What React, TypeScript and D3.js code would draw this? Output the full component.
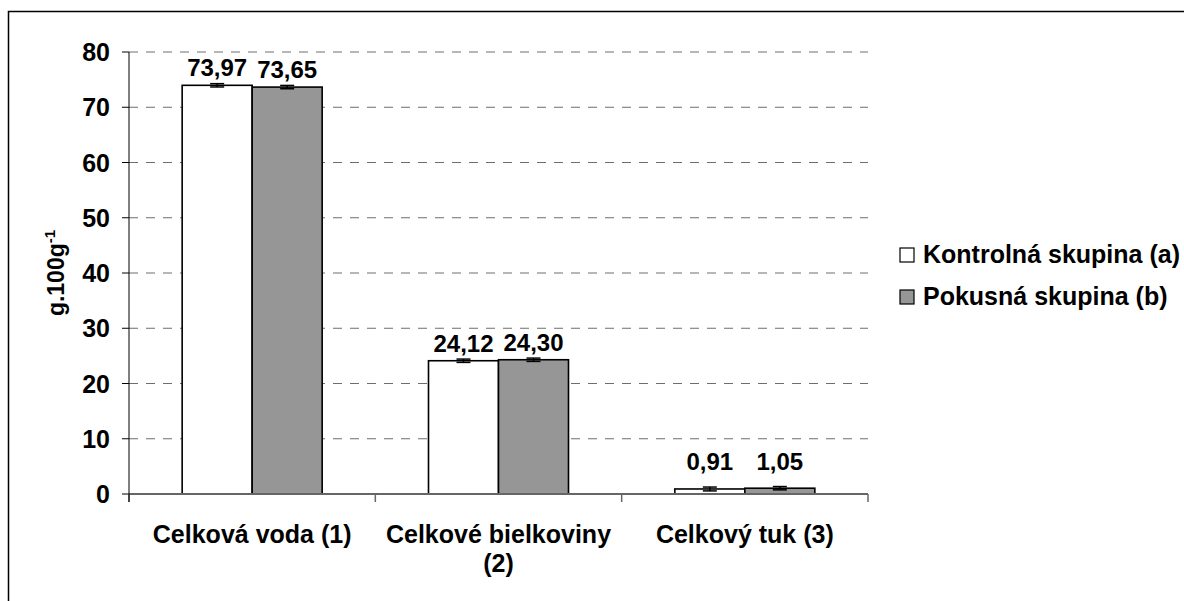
import React from "react";
import * as d3 from "d3";

const categories: string[][] = [["Celková voda (1)"], ["Celkové bielkoviny", "(2)"], ["Celkový tuk (3)"]];
const seriesNames = ["Kontrolná skupina (a)", "Pokusná skupina (b)"];
const controlValues = [73.97, 24.12, 0.91];
const experimentalValues = [73.65, 24.3, 1.05];
const controlErrors = [0.3, 0.3, 0.35];
const experimentalErrors = [0.3, 0.3, 0.3];
const valueLabels = [["73,97", "24,12", "0,91"], ["73,65", "24,30", "1,05"]];
const yTicks = [0, 10, 20, 30, 40, 50, 60, 70, 80];
const seriesColors = ["#ffffff", "#969696"];

const W = 1184;
const H = 601;
const left = 129;
const right = 868;
const top = 52;
const bottom = 494;
const FONT = "'Liberation Sans', Arial, sans-serif";

export default function App() {
  const y = d3.scaleLinear().domain([0, 80]).range([bottom, top]);
  const x0 = d3.scaleBand<number>().domain([0, 1, 2]).range([left, right]).paddingInner(0).paddingOuter(0);
  const bw = x0.bandwidth();
  const groupW = 140;
  const x1 = d3.scaleBand<number>().domain([0, 1]).range([0, groupW]).padding(0);
  const series = [controlValues, experimentalValues];
  const errors = [controlErrors, experimentalErrors];

  return (
    <svg width={W} height={H} style={{ position: "absolute", left: 0, top: 0, background: "#fff" }} fontFamily={FONT}>
      <rect x={8.5} y={11.5} width={1300} height={800} fill="#fff" stroke="#000" strokeWidth={1.5} />
      {/* gridlines */}
      {yTicks.filter((t) => t > 0).map((t) => (
        <line key={"g" + t} x1={left} x2={right} y1={y(t)} y2={y(t)} stroke="#6e6e6e" strokeWidth={1} strokeDasharray="9 8" />
      ))}
      {/* y ticks & labels */}
      {yTicks.map((t) => (
        <g key={"t" + t}>
          <line x1={left - 7} x2={left} y1={y(t)} y2={y(t)} stroke="#000" strokeWidth={1} />
          <text x={110} y={y(t)} dy="0.36em" textAnchor="end" fontSize={25} fontWeight="bold" fill="#000">
            {t}
          </text>
        </g>
      ))}
      {/* bars */}
      {categories.map((_, ci) => {
        const gx = (x0(ci) as number) + (bw - groupW) / 2;
        return (
          <g key={"c" + ci}>
            {series.map((vals, si) => {
              const bx = gx + (x1(si) as number);
              const w = x1.bandwidth();
              const v = vals[ci];
              const e = errors[si][ci];
              const cx = bx + w / 2;
              const labelY = Math.min(y(v) - 9, y(0) - 24);
              return (
                <g key={"b" + si}>
                  <rect x={bx} y={y(v)} width={w} height={y(0) - y(v)} fill={seriesColors[si]} stroke="#000" strokeWidth={1.6} />
                  <line x1={cx} x2={cx} y1={y(v + e)} y2={y(v - e)} stroke="#000" strokeWidth={1.5} />
                  <line x1={cx - 7} x2={cx + 7} y1={y(v + e)} y2={y(v + e)} stroke="#000" strokeWidth={1.5} />
                  <line x1={cx - 7} x2={cx + 7} y1={y(v - e)} y2={y(v - e)} stroke="#000" strokeWidth={1.5} />
                  <text x={cx} y={labelY} textAnchor="middle" fontSize={24} fontWeight="bold" fill="#000">
                    {valueLabels[si][ci]}
                  </text>
                </g>
              );
            })}
          </g>
        );
      })}
      {/* axes */}
      <line x1={left} x2={right} y1={bottom} y2={bottom} stroke="#666" strokeWidth={2} />
      {[0, 1, 2, 3].map((i) => {
        const xx = i < 3 ? (x0(i) as number) : right;
        return <line key={"xt" + i} x1={xx} x2={xx} y1={bottom} y2={bottom + 8} stroke="#666" strokeWidth={1.5} />;
      })}
      <line x1={left} x2={left} y1={top} y2={bottom + 8} stroke="#000" strokeWidth={1} />
      {/* category labels */}
      {categories.map((lines, ci) => (
        <text key={"cl" + ci} textAnchor="middle" fontSize={25} fontWeight="bold" fill="#000">
          {lines.map((ln, li) => (
            <tspan key={li} x={(x0(ci) as number) + bw / 2} y={543 + li * 29}>
              {ln}
            </tspan>
          ))}
        </text>
      ))}
      {/* y title */}
      <text transform={`translate(64,273) rotate(-90)`} textAnchor="middle" fontSize={23} fontWeight="bold" fill="#000">
        g.100g<tspan fontSize={15} dy={-9}>-1</tspan>
      </text>
      {/* legend */}
      {seriesNames.map((n, i) => (
        <g key={"l" + i}>
          <rect x={900} y={248 + i * 42} width={14} height={14} fill={seriesColors[i]} stroke="#000" strokeWidth={1.2} />
          <text x={923} y={263 + i * 42} fontSize={25} fontWeight="bold" fill="#000">
            {n}
          </text>
        </g>
      ))}
    </svg>
  );
}
